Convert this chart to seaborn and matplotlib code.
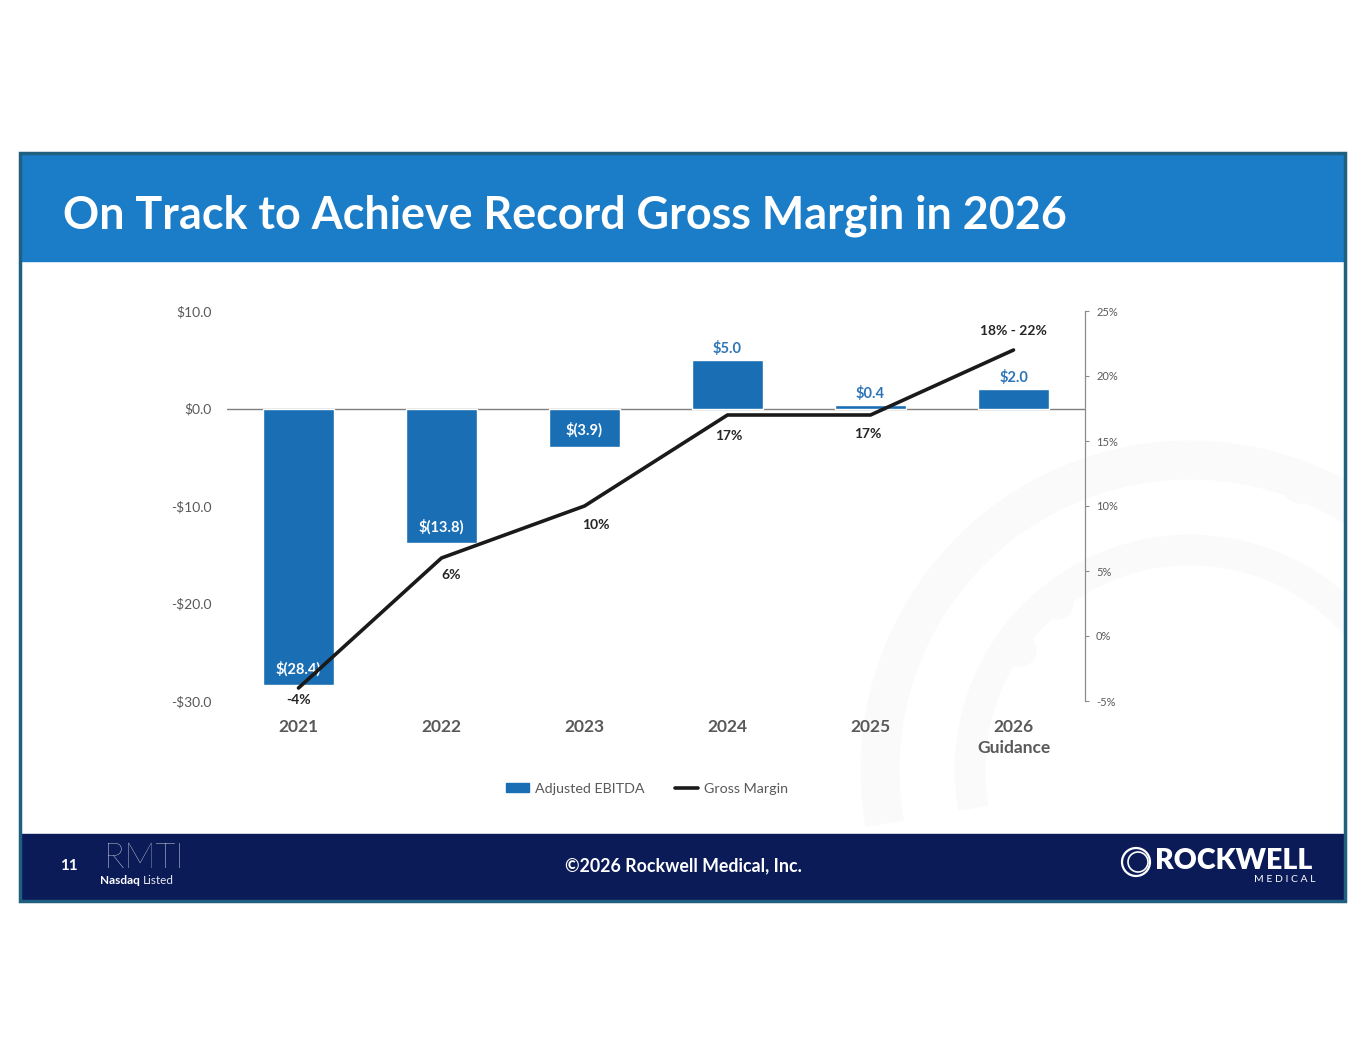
import matplotlib
matplotlib.use('Agg')
import matplotlib.pyplot as plt
import matplotlib.patches as mpatches
from matplotlib.lines import Line2D
import seaborn as sns
import numpy as np

# Chart data
years = ['2021', '2022', '2023', '2024', '2025', '2026\nGuidance']
ebitda = [-28.4, -13.8, -3.9, 5.0, 0.4, 2.0]
ebitda_labels = ['$(28.4)', '$(13.8)', '$(3.9)', '$5.0', '$0.4', '$2.0']
gross_margin = [-4, 6, 10, 17, 17, 22]
margin_labels = ['-4%', '6%', '10%', '17%', '17%', '18% - 22%']
left_ticks = [-30, -20, -10, 0, 10]
right_ticks = [-5, 0, 5, 10, 15, 20, 25]

bar_blue = '#1a6eb4'
label_blue = '#2e75b6'
title_blue = '#1b7cc7'
navy = '#0b1b58'
frame = '#1f5f7f'
gray_txt = '#595959'

sns.set_theme(style='white')
plt.rcParams['font.family'] = ['Lato', 'DejaVu Sans']

W, H = 1365, 1055
fig = plt.figure(figsize=(W / 100, H / 100), dpi=100)

# --- slide background (pixel coordinates) ---
bg = fig.add_axes([0, 0, 1, 1])
bg.set_xlim(0, W)
bg.set_ylim(H, 0)
bg.axis('off')

# faint watermark arcs, kept inside the slide body
body = mpatches.Rectangle((20, 261), 1325, 573, fill=False, lw=0, transform=bg.transData)
for r, lw in [(310, 28), (220, 22)]:
    arc = mpatches.Arc((1190, 770), 2 * r, 2 * r, theta1=170, theta2=360,
                       color='#fafafa', lw=lw, zorder=1)
    bg.add_patch(arc)
    arc.set_clip_path(body)
for cx, cy, rr in [(1300, 487, 16), (1057, 603, 16), (1020, 650, 16)]:
    bg.add_patch(mpatches.Circle((cx, cy), rr, color='#fafafa', zorder=1))

bg.add_patch(mpatches.Rectangle((20, 153), 1325, 108, color=title_blue, zorder=3))
bg.add_patch(mpatches.Rectangle((20, 834), 1325, 67, color=navy, zorder=3))
bg.add_patch(mpatches.Rectangle((20, 153), 1325, 748, fill=False, ec=frame, lw=2.5, zorder=4))

bg.text(63, 216, 'On Track to Achieve Record Gross Margin in 2026', color='white',
        fontsize=32.3, fontweight='bold', va='center', ha='left', zorder=5)

# footer
bg.text(60, 866, '11', color='white', fontsize=11, fontweight='bold', va='center', zorder=5)
bg.text(104, 858, 'RMTI', color='white', fontsize=25, fontweight='light', va='center', zorder=5)
bg.text(100, 881, 'Nasdaq', color='white', fontsize=8.5, fontweight='bold', va='center', zorder=5)
bg.text(143, 881, 'Listed', color='#e6e8f0', fontsize=8.5, fontweight='normal', va='center', zorder=5)
bg.text(683, 866, '\u00a92026 Rockwell Medical, Inc.', color='white', fontsize=12.8,
        fontweight='bold', va='center', ha='center', zorder=5)
bg.add_patch(mpatches.Circle((1136, 862), 14, fill=False, ec='white', lw=1.6, zorder=5))
bg.add_patch(mpatches.Circle((1138, 862), 10, fill=False, ec='white', lw=1.2, zorder=5))
bg.text(1155, 861, 'ROCKWELL', color='white', fontsize=20.5, fontweight='heavy', va='center', zorder=5)
bg.text(1315, 879, 'M E D I C A L', color='white', fontsize=7.5, va='center', ha='right', zorder=5)

# --- chart ---
ax = fig.add_axes([227 / W, 1 - 701 / H, 858 / W, 390 / H])
ax.patch.set_alpha(0)
sns.barplot(x=years, y=ebitda, color=bar_blue, saturation=1, width=0.5, ax=ax, zorder=2)
ax.set_xlim(-0.5, len(years) - 0.5)
ax.set_ylim(-30, 10)
ax.axhline(0, color='#7f7f7f', lw=1, zorder=1)
ax.set_yticks(left_ticks)
ax.set_yticklabels([f'-${abs(v):.1f}' if v < 0 else f'${v:.1f}' for v in left_ticks])
ax.tick_params(axis='y', length=0, pad=10.8, labelsize=10, labelcolor=gray_txt)
ax.tick_params(axis='x', length=0, pad=13, labelsize=12.5, labelcolor=gray_txt)
for lab in ax.get_xticklabels():
    lab.set_fontweight('bold')
    lab.set_linespacing(1.35)
ax.set_xlabel('')
ax.set_ylabel('')
for s in ax.spines.values():
    s.set_visible(False)

for i, (v, lab) in enumerate(zip(ebitda, ebitda_labels)):
    if v < 0:
        ax.annotate(lab, xy=(i, v), xytext=(0, 12), textcoords='offset points',
                    ha='center', va='center', color='white', fontsize=10.5, fontweight='bold', zorder=4)
    else:
        ax.annotate(lab, xy=(i, v), xytext=(0, 8), textcoords='offset points',
                    ha='center', va='center', color=label_blue, fontsize=10.5, fontweight='bold', zorder=4)

ax2 = ax.twinx()
ax2.patch.set_alpha(0)
sns.lineplot(x=np.arange(len(years)), y=gross_margin, ax=ax2, color='#1a1a1a', lw=2.6)
ax2.set_ylim(-5, 25)
ax2.set_yticks(right_ticks)
ax2.set_yticklabels([f'{v}%' for v in right_ticks])
ax2.tick_params(axis='y', direction='out', length=3, width=0.8, color='#8c8c8c',
                pad=5, labelsize=8, labelcolor=gray_txt)
ax2.grid(False)
ax.grid(False)
for name, s in ax2.spines.items():
    s.set_visible(name == 'right')
ax2.spines['right'].set_color('#8c8c8c')
ax2.spines['right'].set_linewidth(0.9)

offsets = [(0, -9), (7, -12), (8, -14), (1, -15), (-2, -14), (0, 14)]
for i, (v, lab, off) in enumerate(zip(gross_margin, margin_labels, offsets)):
    ax2.annotate(lab, xy=(i, v), xytext=off, textcoords='offset points', ha='center', va='center',
                 color='#262626', fontsize=10, fontweight='bold')

handles = [mpatches.Patch(color=bar_blue, label='Adjusted EBITDA'),
           Line2D([0], [0], color='#1a1a1a', lw=2.6, label='Gross Margin')]
leg = fig.legend(handles=handles, loc='center', bbox_to_anchor=(647 / W, 1 - 789 / H), ncol=2,
                 frameon=False, fontsize=10.3, handlelength=1.6, handleheight=0.6,
                 handletextpad=0.4, columnspacing=2.2)
for t in leg.get_texts():
    t.set_color(gray_txt)

fig.savefig('out.png', dpi=100)
